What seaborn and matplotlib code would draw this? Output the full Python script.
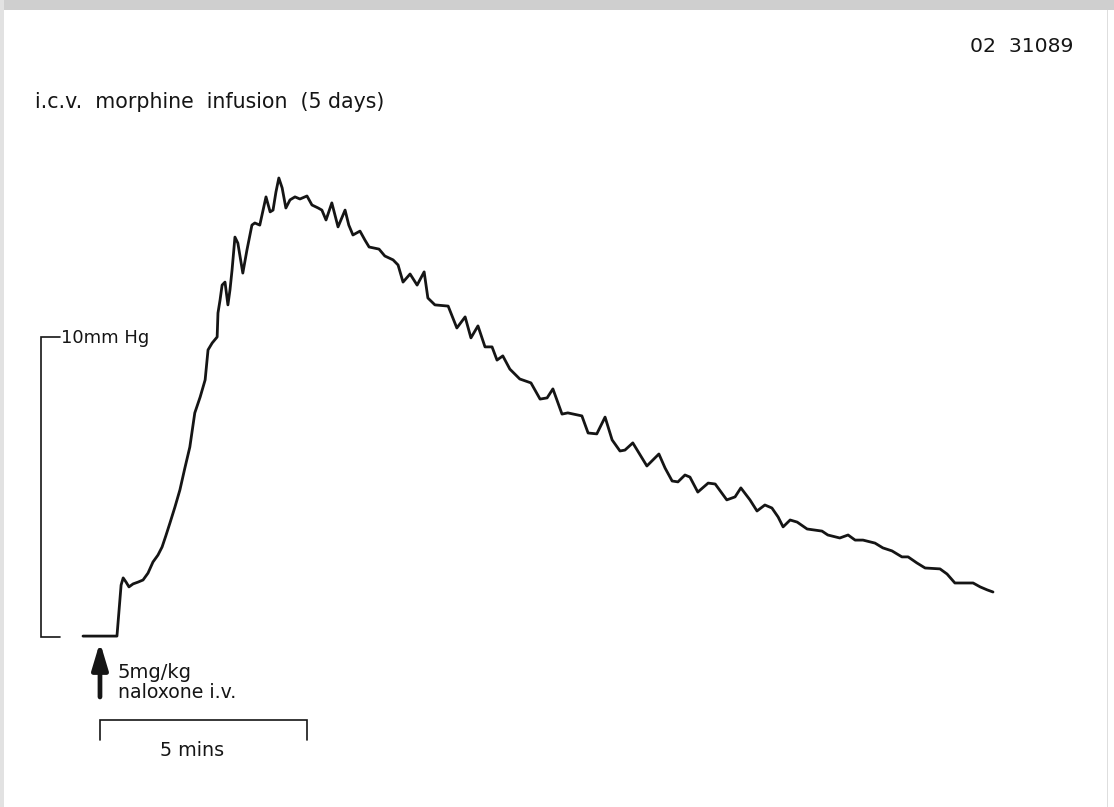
import matplotlib
matplotlib.use("Agg")
import matplotlib.pyplot as plt
from matplotlib.patches import Rectangle
import numpy as np
import pandas as pd
import seaborn as sns

# Intraventricular pressure (mmHg above pre-injection baseline) against time (min)
# after 5 mg/kg naloxone i.v. in a rat given i.c.v. morphine infusion for 5 days.
time_min = [
    -0.41, 0.00, 0.41, 0.46, 0.51, 0.56, 0.63, 0.70, 0.80, 0.92,
    1.04, 1.16, 1.28, 1.40, 1.50, 1.59, 1.69, 1.81, 1.93, 2.05,
    2.17, 2.29, 2.42, 2.54, 2.61, 2.71, 2.83, 2.85, 2.90, 2.95,
    3.02, 3.09, 3.14, 3.19, 3.26, 3.33, 3.45, 3.55, 3.67, 3.74,
    3.86, 3.94, 4.01, 4.11, 4.18, 4.25, 4.32, 4.40, 4.49, 4.59,
    4.71, 4.83, 5.00, 5.12, 5.27, 5.36, 5.46, 5.60, 5.75, 5.92,
    6.01, 6.11, 6.28, 6.40, 6.50, 6.74, 6.88, 7.08, 7.20, 7.32,
    7.49, 7.66, 7.83, 7.92, 8.09, 8.41, 8.62, 8.82, 8.96, 9.13,
    9.30, 9.47, 9.59, 9.73, 9.90, 10.14, 10.41, 10.63, 10.80, 10.94,
    11.16, 11.30, 11.64, 11.79, 12.00, 12.20, 12.37, 12.56, 12.68, 12.87,
    13.21, 13.50, 13.65, 13.82, 13.96, 14.13, 14.25, 14.44, 14.69, 14.86,
    15.14, 15.34, 15.48, 15.70, 15.87, 16.06, 16.23, 16.38, 16.50, 16.67,
    16.84, 17.08, 17.44, 17.58, 17.87, 18.07, 18.24, 18.43, 18.72, 18.91,
    19.13, 19.37, 19.52, 19.73, 19.93, 20.29, 20.46, 20.65, 20.85, 21.09,
    21.26, 21.43, 21.57,
]
pressure_mmhg = [
    0.03, 0.03, 0.03, 0.90, 1.73, 1.97, 1.83, 1.67, 1.77, 1.83,
    1.90, 2.13, 2.50, 2.73, 3.00, 3.37, 3.80, 4.33, 4.90, 5.63,
    6.33, 7.47, 8.00, 8.57, 9.57, 9.80, 10.00, 10.80, 11.23, 11.73,
    11.83, 11.07, 11.57, 12.23, 13.33, 13.13, 12.13, 12.90, 13.73, 13.80,
    13.73, 14.23, 14.67, 14.17, 14.23, 14.83, 15.30, 14.97, 14.30, 14.57,
    14.67, 14.60, 14.70, 14.40, 14.30, 14.23, 13.90, 14.47, 13.67, 14.23,
    13.73, 13.40, 13.53, 13.23, 13.00, 12.93, 12.70, 12.57, 12.40, 11.83,
    12.10, 11.73, 12.17, 11.30, 11.07, 11.03, 10.30, 10.67, 9.97, 10.37,
    9.67, 9.67, 9.23, 9.37, 8.93, 8.60, 8.47, 7.93, 7.97, 8.27,
    7.43, 7.47, 7.37, 6.80, 6.77, 7.33, 6.57, 6.20, 6.23, 6.47,
    5.70, 6.10, 5.63, 5.20, 5.17, 5.40, 5.33, 4.83, 5.13, 5.10,
    4.57, 4.67, 4.97, 4.57, 4.20, 4.40, 4.30, 4.00, 3.67, 3.90,
    3.83, 3.60, 3.53, 3.40, 3.30, 3.40, 3.23, 3.23, 3.13, 2.97,
    2.87, 2.67, 2.67, 2.47, 2.30, 2.27, 2.10, 1.80, 1.80, 1.80,
    1.67, 1.57, 1.50,
]

# Calibration bars
pressure_bar_mmhg = 10
time_bar_min = 5

sns.set_style("white")
plt.rcParams["font.family"] = ["DejaVu Sans"]

INK = "#151515"

fig = plt.figure(figsize=(11.14, 8.07), dpi=100, facecolor="white")

# Edges of the mounted sheet
fig.patches.append(Rectangle((0, 0.987), 1, 0.013, transform=fig.transFigure,
                             facecolor="#cfcfcf", edgecolor="none", zorder=0))
fig.patches.append(Rectangle((0, 0), 0.004, 1, transform=fig.transFigure,
                             facecolor="#e2e2e2", edgecolor="none", zorder=0))
fig.patches.append(Rectangle((0.9935, 0), 0.0015, 0.987, transform=fig.transFigure,
                             facecolor="#dedede", edgecolor="none", zorder=0))

ax = fig.add_axes([0, 0, 1, 0.987 + 0.013])
ax.patch.set_alpha(0)

trace = pd.DataFrame({"time": time_min, "pressure": pressure_mmhg})
sns.lineplot(data=trace, x="time", y="pressure", sort=False, estimator=None,
             color=INK, linewidth=2.0, ax=ax,
             solid_joinstyle="round", solid_capstyle="round")

ax.set_xlim(-2.415, 24.493)
ax.set_ylim(-5.667, 21.233)
ax.axis("off")

# Vertical 10 mmHg calibration bracket
bar_x, tick_x = -1.425, -0.966
ax.plot([tick_x, bar_x, bar_x, tick_x],
        [pressure_bar_mmhg, pressure_bar_mmhg, 0, 0],
        color=INK, lw=1.2, solid_joinstyle="miter")
ax.text(-0.93, 9.8, "10mm Hg", ha="left", va="baseline", fontsize=13, color=INK)

# Horizontal 5 min time bracket
bar_y, tick_y = -2.77, -3.43
ax.plot([0, 0, time_bar_min, time_bar_min], [tick_y, bar_y, bar_y, tick_y],
        color=INK, lw=1.2, solid_joinstyle="miter")
ax.text(2.22, -3.97, f"{time_bar_min} mins", ha="center", va="baseline",
        fontsize=13.8, color=INK)

# Injection marker
ax.annotate("", xy=(0, -0.17), xytext=(0, -2.0),
            arrowprops=dict(arrowstyle="-|>,head_length=0.8,head_width=0.24",
                            lw=3.4, color=INK, mutation_scale=20,
                            shrinkA=0, shrinkB=0))
ax.text(0.435, -1.37, "5mg/kg", ha="left", va="baseline", fontsize=14, color=INK)
ax.text(0.435, -2.03, "naloxone i.v.", ha="left", va="baseline", fontsize=13.6, color=INK)

# Headings
ax.text(-1.57, 17.63, "i.c.v.  morphine  infusion  (5 days)", ha="left",
        va="baseline", fontsize=14.8, color=INK)
ax.text(21.01, 19.5, "02  31089", ha="left", va="baseline", fontsize=14.7, color=INK)

fig.savefig("out.png", dpi=100, facecolor="white")
